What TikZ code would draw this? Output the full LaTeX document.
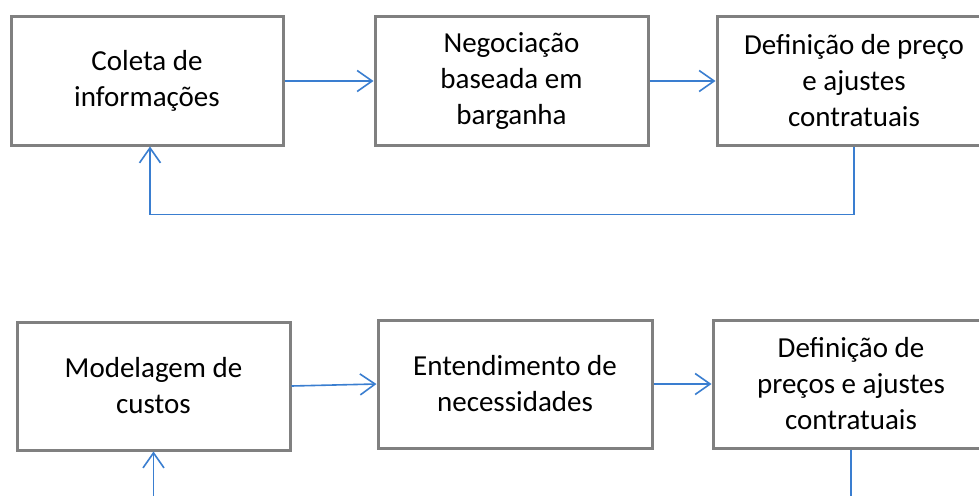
\documentclass[tikz,border=0pt]{standalone}
\usepackage{fontspec}
\setmainfont{Carlito}
\usetikzlibrary{arrows.meta}
\definecolor{flowblue}{RGB}{58,126,208}
\definecolor{boxgray}{RGB}{128,128,128}
\tikzset{
  procbox/.style={draw=boxgray, line width=3pt, rectangle, minimum height=128pt,
    inner sep=0pt, align=center, text=black,
    font=\fontsize{29}{36}\selectfont},
  flow/.style={draw=flowblue, line width=1.6pt,
    -{Straight Barb[length=15pt,width=21pt,line width=1.6pt]}},
  flowline/.style={draw=flowblue, line width=1.6pt}
}
\begin{document}
\begin{tikzpicture}[x=1pt,y=-1pt]
\useasboundingbox (0,0) rectangle (979,495);
\clip (0,0) rectangle (979,495);
\fill[white] (0,0) rectangle (979,495);
% top row
\node[procbox, minimum width=272pt] (c1) at (147,81) {Coleta de\\informações};
\node[procbox, minimum width=273pt] (c2) at (511.5,81) {Negociação\\baseada em\\barganha};
\node[procbox, minimum width=274pt] (c3) at (854,81) {Definição de preço\\e ajustes\\contratuais};
% bottom row
\node[procbox, minimum width=273pt] (d1) at (153.5,386) {Modelagem de\\custos};
\node[procbox, minimum width=274pt] (d2) at (515,384) {Entendimento de\\necessidades};
\node[procbox, minimum width=276pt] (d3) at (851,384) {Definição de\\preços e ajustes\\contratuais};
% connectors
\draw[flow] (c1.east) -- (c2.west);
\draw[flow] (c2.east) -- (c3.west);
\draw[flow] (c3.south) -- ++(0,68) -| ([xshift=3pt]c1.south);
\draw[flow] (d1.east) -- (d2.west);
\draw[flow] (d2.east) -- (d3.west);
\coordinate (b1) at (153.5,505);
\coordinate (b2) at (851,505);
\draw[flow] (b1) -- (d1.south);
\draw[flowline] (d3.south) -- (b2);
\end{tikzpicture}
\end{document}
